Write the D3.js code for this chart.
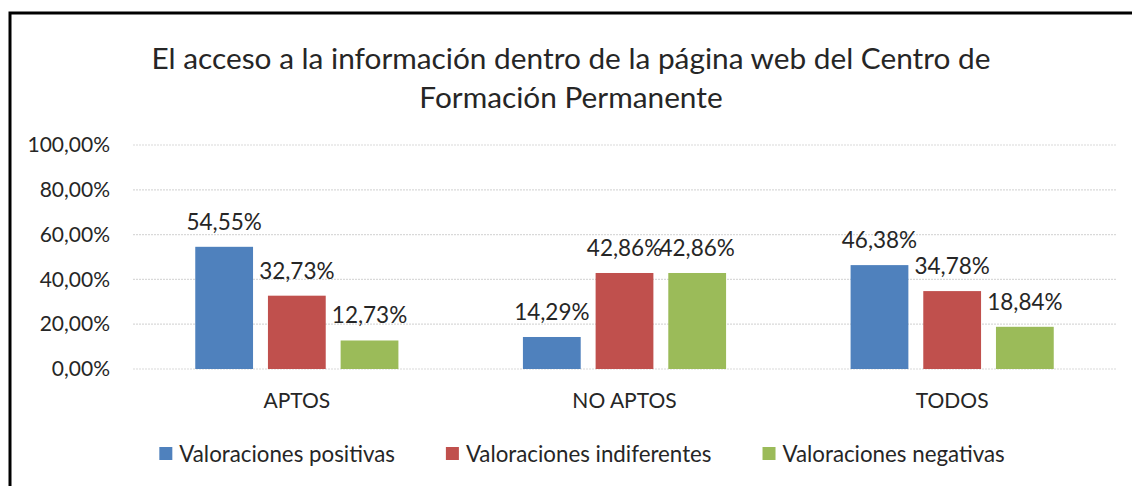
<!DOCTYPE html>
<html>
<head>
<meta charset="utf-8">
<script src="https://cdn.jsdelivr.net/npm/d3@7"></script>
<style>
    body { margin: 0; background: #fff; }
    text { font-family: Lato, "Open Sans", sans-serif; fill: #262626; }
</style>
</head>
<body>
<div id="chart"></div>
<script>
// Data
const categories = ["APTOS", "NO APTOS", "TODOS"];
const seriesNames = ["Valoraciones positivas", "Valoraciones indiferentes", "Valoraciones negativas"];
const positivas = [54.55, 14.29, 46.38];
const indiferentes = [32.73, 42.86, 34.78];
const negativas = [12.73, 42.86, 18.84];
const yTicks = [0, 20, 40, 60, 80, 100];
const colors = ["#4F81BD", "#C0504D", "#9BBB59"];
const titleLines = ["El acceso a la información dentro de la página web del Centro de", "Formación Permanente"];

const seriesValues = [positivas, indiferentes, negativas];

document.addEventListener('DOMContentLoaded', function() {
    renderChart();
});

function fmt(v) {
    return v.toFixed(2).replace(".", ",") + "%";
}

function renderChart() {
    const W = 1132, H = 486;
    const margin = { top: 145, right: 16, bottom: 117, left: 133 };
    const width = W - margin.left - margin.right;
    const height = H - margin.top - margin.bottom;

    const svg = d3.select("#chart").append("svg")
        .attr("width", W)
        .attr("height", H);

    svg.append("rect")
        .attr("width", W).attr("height", H)
        .attr("fill", "#fff");

    // chart frame (runs off the right and bottom edges)
    svg.append("rect")
        .attr("x", 10).attr("y", 13)
        .attr("width", W + 20).attr("height", H + 20)
        .attr("fill", "none")
        .attr("stroke", "#000")
        .attr("stroke-width", 3);

    // title
    svg.append("text")
        .attr("x", 571)
        .attr("y", 69)
        .attr("text-anchor", "middle")
        .style("font-size", "29.8px")
        .selectAll("tspan")
        .data(titleLines)
        .enter().append("tspan")
        .attr("x", 571)
        .attr("dy", (d, i) => i === 0 ? 0 : 39)
        .text(d => d);

    const g = svg.append("g")
        .attr("transform", "translate(" + margin.left + "," + margin.top + ")");

    const x0 = d3.scaleBand()
        .domain(categories)
        .range([0, width])
        .paddingInner(0.38)
        .paddingOuter(0.19);

    const x1 = d3.scaleBand()
        .domain(seriesNames)
        .range([0, x0.bandwidth()])
        .paddingInner(0.205)
        .paddingOuter(0);

    const y = d3.scaleLinear().domain([0, 100]).range([height, 0]);

    // gridlines
    g.append("g")
        .selectAll("line")
        .data(yTicks)
        .enter().append("line")
        .attr("x1", 0).attr("x2", width)
        .attr("y1", d => y(d)).attr("y2", d => y(d))
        .attr("stroke", "#D9D9D9")
        .attr("stroke-width", 1.2)
        .attr("stroke-dasharray", "2,1");

    // y axis labels
    const yAxis = d3.axisLeft(y)
        .tickValues(yTicks)
        .tickSize(0)
        .tickPadding(23)
        .tickFormat(d => fmt(d));

    g.append("g")
        .attr("class", "y axis")
        .call(yAxis)
        .call(a => a.select(".domain").remove())
        .selectAll("text")
        .style("font-size", "21px")
        .attr("fill", "#262626");

    // x axis labels
    const xAxis = d3.axisBottom(x0).tickSize(0).tickPadding(24);
    g.append("g")
        .attr("class", "x axis")
        .attr("transform", "translate(0," + height + ")")
        .call(xAxis)
        .call(a => a.select(".domain").remove())
        .selectAll("text")
        .style("font-size", "21px")
        .attr("fill", "#262626");

    // bars
    const rows = [];
    categories.forEach((c, ci) => {
        seriesNames.forEach((s, si) => {
            rows.push({ cat: c, series: s, si: si, value: seriesValues[si][ci] });
        });
    });

    g.selectAll(".bar")
        .data(rows)
        .enter().append("rect")
        .attr("class", "bar")
        .attr("x", d => x0(d.cat) + x1(d.series))
        .attr("width", x1.bandwidth())
        .attr("y", d => y(d.value))
        .attr("height", d => height - y(d.value))
        .attr("fill", d => colors[d.si]);

    g.selectAll(".label")
        .data(rows)
        .enter().append("text")
        .attr("class", "label")
        .attr("x", d => x0(d.cat) + x1(d.series) + x1.bandwidth() / 2)
        .attr("y", d => y(d.value) - 17)
        .attr("text-anchor", "middle")
        .style("font-size", "22.5px")
        .text(d => fmt(d.value));

    // legend
    const legend = svg.append("g");
    let cursor = 0;
    seriesNames.forEach((s, i) => {
        const item = legend.append("g").attr("transform", "translate(" + cursor + ",0)");
        item.append("rect")
            .attr("x", 0).attr("y", -15)
            .attr("width", 13).attr("height", 13)
            .attr("fill", colors[i]);
        const t = item.append("text")
            .attr("x", 20)
            .attr("y", 0)
            .style("font-size", "22.3px")
            .text(s);
        cursor += 20 + t.node().getComputedTextLength() + 51;
    });
    const total = cursor - 51;
    legend.attr("transform", "translate(" + (582 - total / 2) + ",462)");
}
</script>
</body>
</html>
